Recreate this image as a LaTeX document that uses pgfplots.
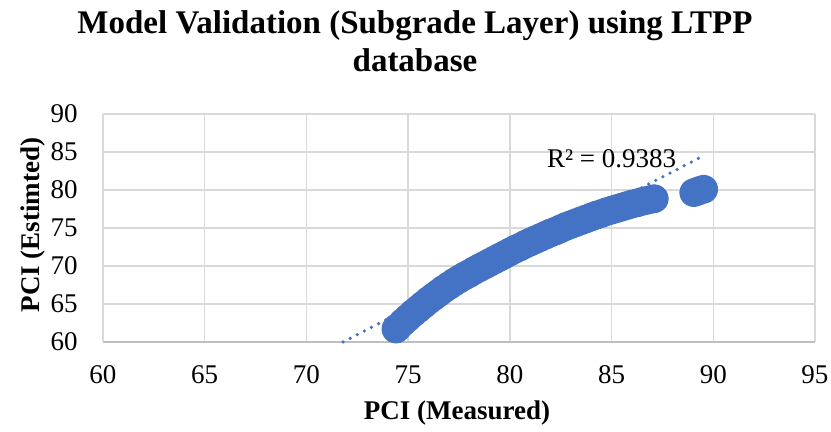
\documentclass[border=0pt]{standalone}
\usepackage{pgfplots}
\pgfplotsset{compat=1.18}
\usepackage{fontspec}
\setmainfont{Liberation Serif}
\definecolor{xlblue}{HTML}{4472C4}
\definecolor{gridc}{HTML}{D9D9D9}
\definecolor{axc}{HTML}{BFBFBF}
\begin{document}
\begin{tikzpicture}
\begin{axis}[
  name=ax,
  scale only axis,
  width=356pt, height=114pt,
  xmin=60, xmax=95, ymin=60, ymax=90,
  xtick={60,65,...,95}, ytick={60,65,...,90},
  grid=major,
  major grid style={draw=gridc, line width=0.75pt},
  axis x line*=bottom, axis y line*=left,
  x axis line style={draw=axc, line width=0.9pt, -},
  y axis line style={draw=gridc, line width=0.75pt, -},
  major tick length=0pt,
  /pgf/number format/assume math mode=true,
  tick label style={font=\fontsize{13.5}{16}\selectfont, text=black},
  xticklabel style={anchor=north, inner sep=0pt, yshift=-11.5pt},
  yticklabel style={anchor=east, inner sep=0pt, xshift=-12.5pt},
  clip=false,
]
\addplot[xlblue, line width=7.2pt, line cap=round, line join=round, mark=*, mark size=3.6pt, mark options={draw=none, fill=xlblue}] coordinates {
(74.4,61.7) (74.5,61.95) (74.75,62.6) (75.0,63.2) (75.25,63.8) (75.5,64.35)
(75.75,64.9) (76.0,65.45) (76.25,65.95) (76.5,66.45) (76.75,66.95) (77.0,67.4)
(77.25,67.85) (77.5,68.25) (77.75,68.65) (78.0,69.0) (78.25,69.4) (78.5,69.75)
(78.75,70.1) (79.0,70.45) (79.25,70.8) (79.5,71.15) (79.75,71.5) (80.0,71.85)
(80.25,72.2) (80.5,72.5) (80.75,72.85) (81.0,73.15) (81.25,73.45) (81.5,73.75)
(81.75,74.05) (82.0,74.35) (82.25,74.6) (82.5,74.9) (82.75,75.2) (83.0,75.45)
(83.25,75.7) (83.5,75.95) (83.75,76.2) (84.0,76.45) (84.25,76.7) (84.5,76.9)
(84.75,77.15) (85.0,77.35) (85.25,77.55) (85.5,77.75) (85.75,77.95) (86.0,78.15)
(86.25,78.3) (86.5,78.5) (86.75,78.65) (87.0,78.8) (87.1,78.85)
};
\addplot[xlblue, line width=7.2pt, line cap=round, line join=round, mark=*, mark size=3.6pt, mark options={draw=none, fill=xlblue}] coordinates {
(89.04,79.65) (89.2,79.8) (89.35,79.95) (89.53,80.1)
};
\addplot[xlblue, line width=1.8pt, line cap=round, dash pattern=on 0pt off 4pt] coordinates {
(71.8,60.0) (89.45,84.41)
};
\node[anchor=base, font=\fontsize{13.5}{16}\selectfont] at (axis cs:85.0,83.0) {R² = 0.9383};
\end{axis}
\node[anchor=base, font=\bfseries\fontsize{16.5}{19}\selectfont] at ([shift={(156pt,40pt)}]ax.north west) {Model Validation (Subgrade Layer) using LTPP};
\node[anchor=base, font=\bfseries\fontsize{16.5}{19}\selectfont] at ([shift={(156pt,21pt)}]ax.north west) {database};
\node[anchor=base, font=\bfseries\fontsize{13.5}{16}\selectfont] at ([shift={(-1pt,-39pt)}]ax.south) {PCI (Measured)};
\node[anchor=base, rotate=90, font=\bfseries\fontsize{13.5}{16}\selectfont] at ([shift={(-31.5pt,1.5pt)}]ax.west) {PCI (Estimted)};
\pgfresetboundingbox
\path ([shift={(-51.5pt,-45pt)}]ax.south west) rectangle ([shift={(8pt,57pt)}]ax.north east);
\end{tikzpicture}
\end{document}
